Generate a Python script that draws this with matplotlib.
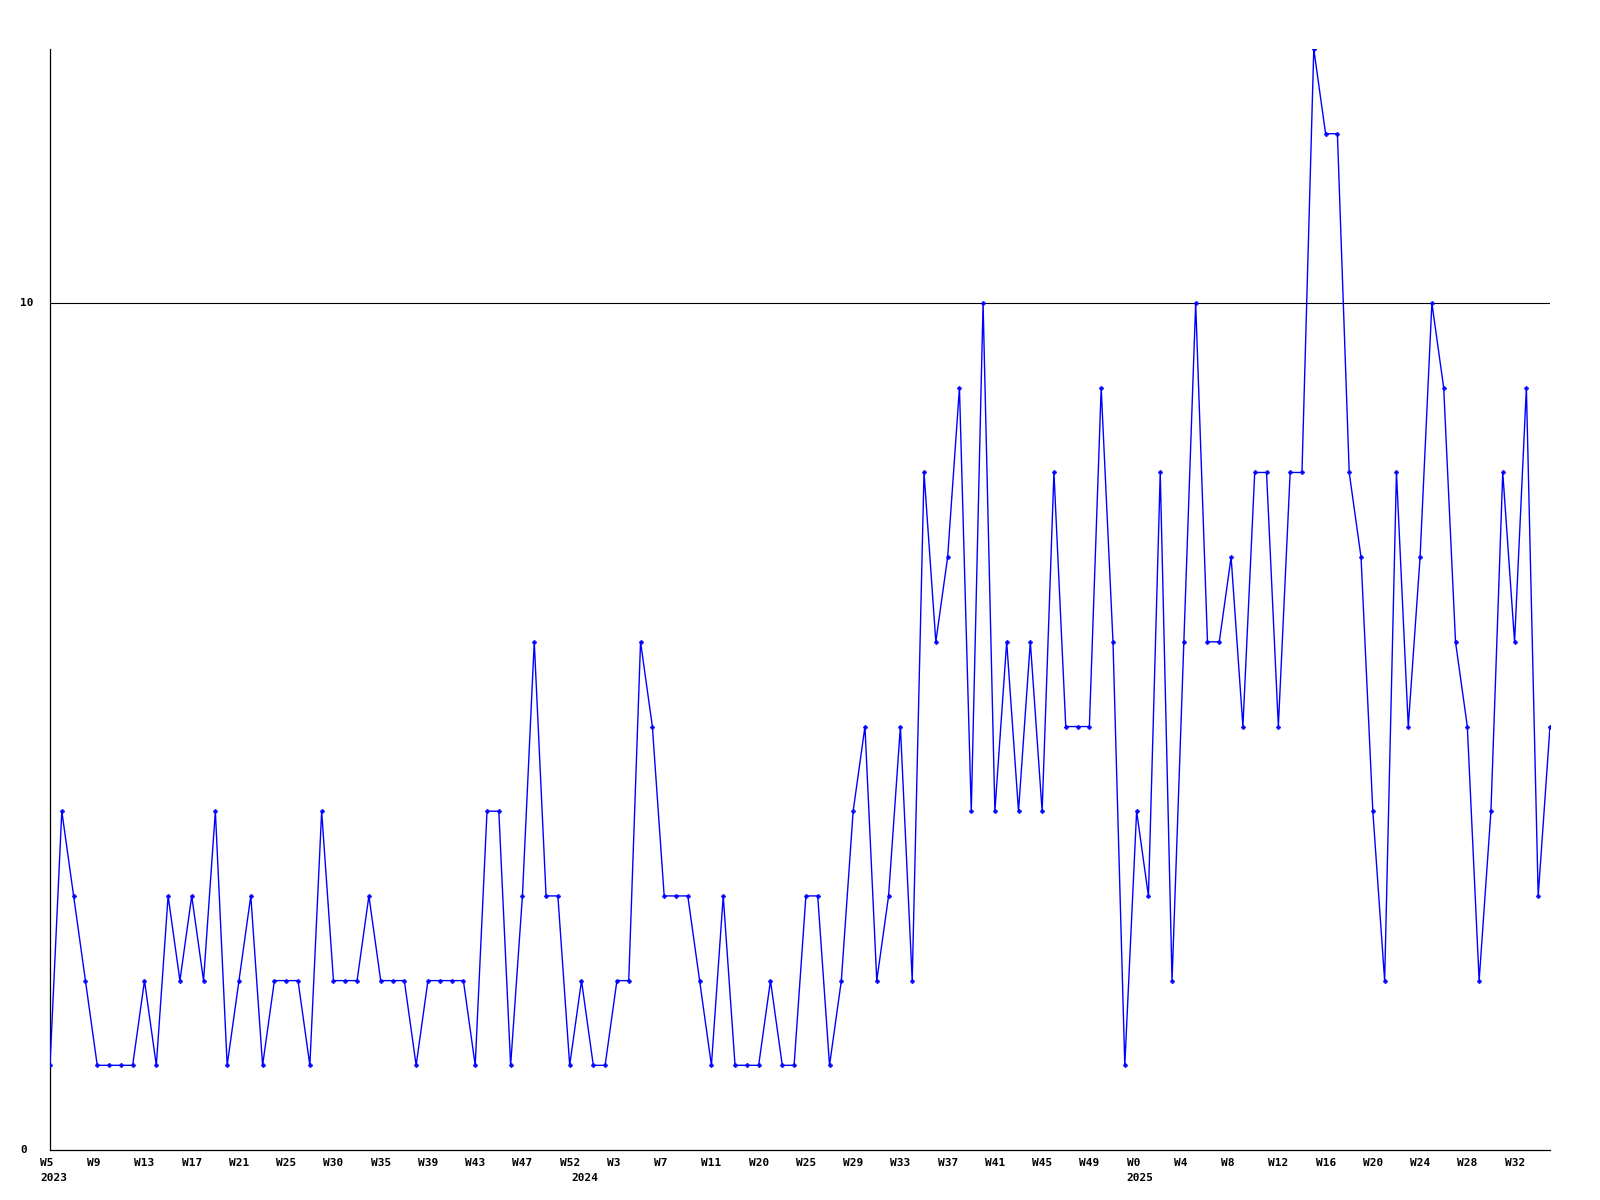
import matplotlib
matplotlib.use("Agg")
import matplotlib.pyplot as plt
from matplotlib.transforms import offset_copy, blended_transform_factory

# weekly counts, one per week shown on the axis
values = [1, 4, 3, 2, 1, 1, 1, 1, 2, 1, 3, 2, 3, 2, 4, 1, 2, 3, 1, 2,
          2, 2, 1, 4, 2, 2, 2, 3, 2, 2, 2, 1, 2, 2, 2, 2, 1, 4, 4, 1,
          3, 6, 3, 3, 1, 2, 1, 1, 2, 2, 6, 5, 3, 3, 3, 2, 1, 3, 1, 1,
          1, 2, 1, 1, 3, 3, 1, 2, 4, 5, 2, 3, 5, 2, 8, 6, 7, 9, 4, 10,
          4, 6, 4, 6, 4, 8, 5, 5, 5, 9, 6, 1, 4, 3, 8, 2, 6, 10, 6, 6,
          7, 5, 8, 8, 5, 8, 8, 13, 12, 12, 8, 7, 4, 2, 8, 5, 7, 10, 9, 6,
          5, 2, 4, 8, 6, 9, 3, 5]

tick_labels = ["W5", "W9", "W13", "W17", "W21", "W25", "W30", "W35", "W39",
               "W43", "W47", "W52", "W3", "W7", "W11", "W20", "W25", "W29",
               "W33", "W37", "W41", "W45", "W49", "W0", "W4", "W8", "W12",
               "W16", "W20", "W24", "W28", "W32"]
tick_step = 4
year_labels = {0: "2023", 45: "2024", 92: "2025"}
y_ticks = [0, 10]

fig = plt.figure(figsize=(16, 12), dpi=100)
ax = fig.add_axes([50 / 1600, 1 - 1150 / 1200, 1500 / 1600, 1101 / 1200])

x = list(range(len(values)))
ax.axhline(10, color="black", lw=0.8, zorder=1)
ax.plot(x, values, color="#0000ff", lw=1.0, marker="P", ms=2.8,
        mec="#0000ff", mfc="#0000ff", mew=0.5, zorder=3)

ax.set_xlim(0, len(values) - 1)
ax.set_ylim(0, 13)
ax.set_xticks([])
ax.set_yticks([])
for s in ["top", "right"]:
    ax.spines[s].set_visible(False)
ax.spines["left"].set_linewidth(0.9)
ax.spines["bottom"].set_linewidth(0.9)

font = dict(family="DejaVu Sans Mono", fontweight="bold", fontsize=8)
trans_x = blended_transform_factory(ax.transData, ax.transAxes)
lab_trans = offset_copy(trans_x, fig=fig, x=-10, y=-8, units="dots")
year_trans = offset_copy(trans_x, fig=fig, x=-10, y=-23, units="dots")
for i, lab in enumerate(tick_labels):
    ax.text(i * tick_step, 0, lab, transform=lab_trans, ha="left", va="top", **font)
for pos, yr in year_labels.items():
    ax.text(pos, 0, yr, transform=year_trans, ha="left", va="top", **font)

trans_y = blended_transform_factory(ax.transAxes, ax.transData)
ylab_trans = offset_copy(trans_y, fig=fig, x=-30, y=0, units="dots")
for v in y_ticks:
    ax.text(0, v, str(v), transform=ylab_trans, ha="left", va="center", **font)

fig.savefig("out.png", dpi=100)
